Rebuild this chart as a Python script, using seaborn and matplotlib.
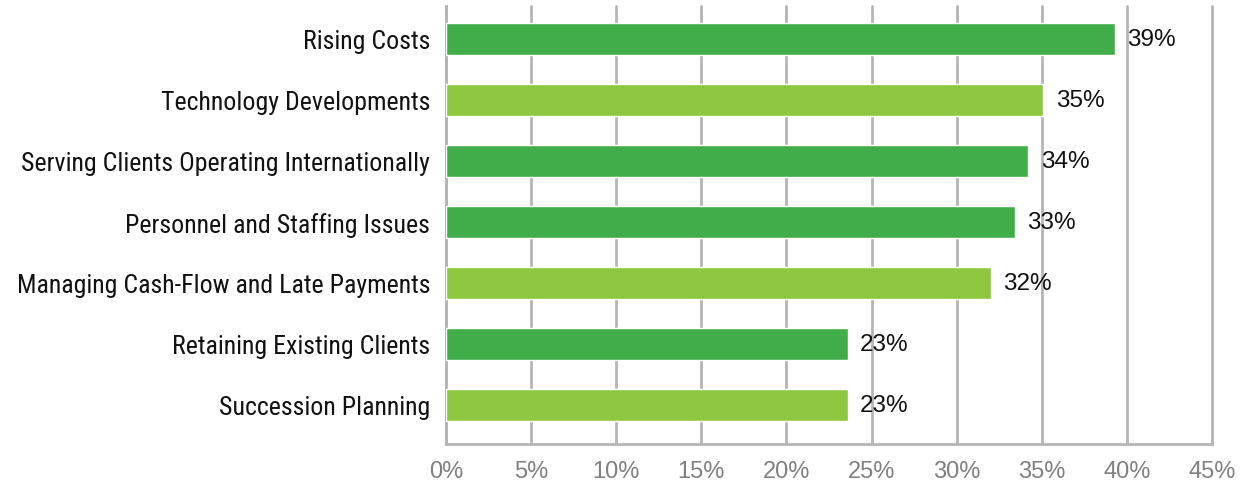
import matplotlib
matplotlib.use("Agg")
import matplotlib.pyplot as plt
import seaborn as sns
import pandas as pd
from matplotlib.ticker import FuncFormatter

categories = [
    "Rising Costs",
    "Technology Developments",
    "Serving Clients Operating Internationally",
    "Personnel and Staffing Issues",
    "Managing Cash-Flow and Late Payments",
    "Retaining Existing Clients",
    "Succession Planning",
]
values = [39.3, 35.1, 34.2, 33.4, 32.0, 23.6, 23.6]
value_labels = ["39%", "35%", "34%", "33%", "32%", "23%", "23%"]
bar_colors = ["#41AD49", "#8DC63F", "#41AD49", "#41AD49", "#8DC63F", "#41AD49", "#8DC63F"]
x_ticks = [0, 5, 10, 15, 20, 25, 30, 35, 40, 45]

sns.set_theme(style="white")
arial = ["Liberation Sans", "DejaVu Sans"]
plt.rcParams["font.family"] = arial

df = pd.DataFrame({"category": categories, "value": values})

fig = plt.figure(figsize=(12.58, 4.81), dpi=100)
ax = fig.add_axes([446 / 1258, 1 - 445 / 481, (1212 - 446) / 1258, (445 - 7) / 481])

sns.barplot(data=df, x="value", y="category", hue="category", palette=bar_colors,
            legend=False, width=0.52, orient="h", ax=ax, zorder=3, saturation=1)

ax.set_xlim(0, 45)
ax.set_ylim(6.64, -0.54)
ax.set_xticks(x_ticks)
ax.xaxis.set_major_formatter(FuncFormatter(lambda v, p: f"{int(v)}%"))
ax.grid(axis="x", color="#B5B5B8", linewidth=2, zorder=0)
for gl in ax.get_xgridlines():
    gl.set_clip_on(False)
ax.grid(axis="y", visible=False)
for s in ["top", "right"]:
    ax.spines[s].set_visible(False)
for s in ["left", "bottom"]:
    ax.spines[s].set_color("#B5B5B8")
    ax.spines[s].set_linewidth(2)
ax.set_xlabel("")
ax.set_ylabel("")
ax.tick_params(axis="x", colors="#808080", labelsize=17, length=0, pad=11.5)
ax.tick_params(axis="y", colors="#111111", labelsize=18.6, length=0, pad=11.5,
               labelfontfamily="Roboto Condensed")

for i, (v, t) in enumerate(zip(values, value_labels)):
    ax.annotate(t, xy=(v, i), xytext=(9, 0), textcoords="offset points",
                va="center", ha="left", fontsize=17.5, color="#111111",
                family=arial)

fig.savefig("out.png", dpi=100, facecolor="white")
